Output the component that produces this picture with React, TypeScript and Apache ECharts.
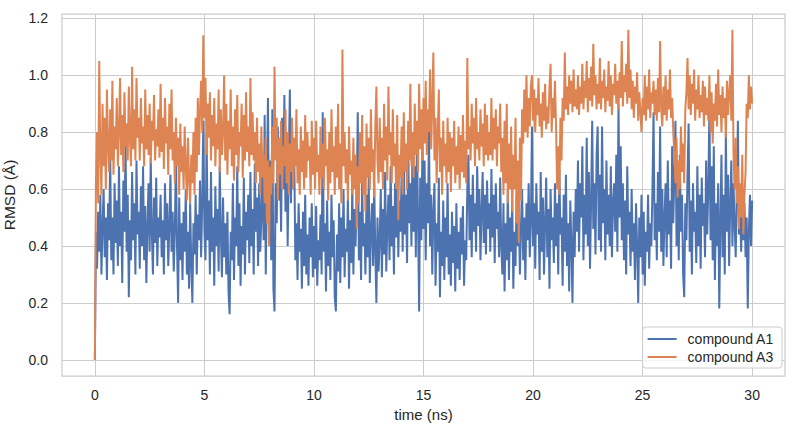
import React, { useEffect, useRef } from "react";
import * as echarts from "echarts";

// Sampling step of the trajectories (ns)
const TIME_STEP_NS = 0.05;

const X_TICKS = [0, 5, 10, 15, 20, 25, 30];
const Y_TICKS = [0, 0.2, 0.4, 0.6, 0.8, 1.0, 1.2];
const SERIES_NAMES = ["compound A1", "compound A3"];

// RMSD of compound A1 (Å), one value every 0.05 ns, 0–30 ns
const rmsdA1: number[] = [
  0.00, 0.45, 0.32, 0.52, 0.38, 0.58, 0.30, 0.47, 0.60, 0.36, 0.50, 0.28, 0.55, 0.42, 0.72, 0.35, 0.50, 0.30, 0.62, 0.41,
  0.56, 0.33, 0.68, 0.40, 0.52, 0.27, 0.63, 0.45, 0.76, 0.38, 0.58, 0.22, 0.49, 0.35, 0.66, 0.42, 0.55, 0.30, 0.70, 0.44,
  0.52, 0.32, 0.61, 0.40, 0.68, 0.35, 0.54, 0.27, 0.47, 0.62, 0.38, 0.71, 0.45, 0.30, 0.57, 0.41, 0.64, 0.33, 0.50, 0.43,
  0.58, 0.36, 0.49, 0.30, 0.62, 0.42, 0.55, 0.33, 0.47, 0.65, 0.38, 0.52, 0.31, 0.45, 0.72, 0.40, 0.20, 0.57, 0.35, 0.48,
  0.28, 0.52, 0.38, 0.60, 0.30, 0.45, 0.25, 0.55, 0.34, 0.20, 0.48, 0.37, 0.58, 0.30, 0.51, 0.42, 0.63, 0.36, 0.55, 0.84,
  0.45, 0.35, 0.80, 0.42, 0.56, 0.30, 0.66, 0.38, 0.50, 0.26, 0.61, 0.40, 0.53, 0.31, 0.68, 0.44, 0.29, 0.57, 0.36, 0.48,
  0.30, 0.52, 0.24, 0.16, 0.45, 0.35, 0.62, 0.28, 0.50, 0.40, 0.68, 0.33, 0.55, 0.26, 0.47, 0.37, 0.64, 0.30, 0.52, 0.42,
  0.58, 0.34, 0.66, 0.40, 0.53, 0.30, 0.69, 0.45, 0.57, 0.33, 0.62, 0.38, 0.50, 0.72, 0.42, 0.86, 0.30, 0.60, 0.92, 0.45,
  0.70, 0.35, 0.88, 0.25, 0.17, 0.62, 0.48, 0.82, 0.56, 0.72, 0.45, 0.85, 0.60, 0.93, 0.52, 0.78, 0.40, 0.68, 0.95, 0.55,
  0.80, 0.60, 0.72, 0.35, 0.48, 0.28, 0.55, 0.38, 0.46, 0.25, 0.52, 0.33, 0.58, 0.30, 0.44, 0.26, 0.50, 0.36, 0.55, 0.29,
  0.47, 0.32, 0.54, 0.26, 0.42, 0.35, 0.51, 0.30, 0.87, 0.38, 0.48, 0.24, 0.56, 0.33, 0.45, 0.28, 0.58, 0.36, 0.49, 0.22,
  0.17, 0.44, 0.31, 0.55, 0.27, 0.50, 0.36, 0.60, 0.29, 0.46, 0.38, 0.57, 0.25, 0.49, 0.34, 0.61, 0.30, 0.53, 0.40, 0.58,
  0.87, 0.35, 0.52, 0.28, 0.63, 0.40, 0.48, 0.30, 0.58, 0.36, 0.65, 0.27, 0.45, 0.55, 0.33, 0.62, 0.38, 0.20, 0.50, 0.31,
  0.42, 0.60, 0.29, 0.53, 0.37, 0.66, 0.31, 0.47, 0.58, 0.35, 0.68, 0.40, 0.54, 0.30, 0.62, 0.43, 0.70, 0.36, 0.56, 0.45,
  0.65, 0.38, 0.72, 0.44, 0.58, 0.34, 0.76, 0.48, 0.62, 0.40, 0.78, 0.45, 0.68, 0.36, 0.80, 0.50, 0.17, 0.64, 0.42, 0.75,
  0.46, 0.70, 0.35, 0.62, 0.48, 0.80, 0.40, 0.58, 0.30, 0.52, 0.62, 0.26, 0.48, 0.38, 0.64, 0.22, 0.45, 0.33, 0.56, 0.28,
  0.50, 0.36, 0.62, 0.30, 0.44, 0.26, 0.52, 0.34, 0.47, 0.24, 0.55, 0.32, 0.45, 0.28, 0.50, 0.37, 0.54, 0.26, 0.42, 0.35,
  0.60, 0.72, 0.42, 0.58, 0.36, 0.65, 0.45, 0.55, 0.38, 0.68, 0.47, 0.60, 0.35, 0.52, 0.66, 0.41, 0.58, 0.37, 0.63, 0.46,
  0.55, 0.38, 0.67, 0.43, 0.58, 0.34, 0.62, 0.46, 0.52, 0.36, 0.64, 0.40, 0.30, 0.55, 0.24, 0.48, 0.35, 0.60, 0.28, 0.50,
  0.38, 0.56, 0.25, 0.45, 0.33, 0.58, 0.40, 0.52, 0.30, 0.47, 0.60, 0.35, 0.50, 0.28, 0.55, 0.42, 0.62, 0.36, 0.48, 0.82,
  0.40, 0.55, 0.32, 0.62, 0.44, 0.52, 0.28, 0.66, 0.38, 0.57, 0.30, 0.48, 0.64, 0.36, 0.53, 0.25, 0.60, 0.42, 0.50, 0.34,
  0.62, 0.40, 0.55, 0.30, 0.67, 0.44, 0.50, 0.26, 0.58, 0.38, 0.65, 0.33, 0.48, 0.24, 0.56, 0.41, 0.20, 0.52, 0.36, 0.60,
  0.45, 0.70, 0.38, 0.62, 0.50, 0.75, 0.35, 0.58, 0.44, 0.78, 0.40, 0.66, 0.32, 0.55, 0.84, 0.46, 0.62, 0.37, 0.72, 0.82,
  0.42, 0.65, 0.38, 0.82, 0.48, 0.60, 0.35, 0.70, 0.44, 0.58, 0.40, 0.68, 0.36, 0.55, 0.62, 0.45, 0.72, 0.38, 0.90, 0.50,
  0.75, 0.42, 0.62, 0.35, 0.56, 0.30, 0.68, 0.44, 0.52, 0.33, 0.60, 0.38, 0.48, 0.28, 0.55, 0.40, 0.20, 0.50, 0.36, 0.58,
  0.30, 0.52, 0.26, 0.45, 0.38, 0.58, 0.32, 0.48, 0.40, 0.60, 0.87, 0.42, 0.55, 0.35, 0.66, 0.45, 0.82, 0.38, 0.60, 0.33,
  0.50, 0.62, 0.36, 0.70, 0.44, 0.56, 0.32, 0.75, 0.48, 0.65, 0.84, 0.40, 0.60, 0.35, 0.72, 0.45, 0.58, 0.30, 0.22, 0.55,
  0.42, 0.65, 0.83, 0.38, 0.56, 0.30, 0.62, 0.45, 0.52, 0.34, 0.68, 0.40, 0.58, 0.32, 0.64, 0.47, 0.55, 0.36, 0.70, 0.44,
  0.60, 0.89, 0.42, 0.68, 0.35, 0.75, 0.28, 0.55, 0.40, 0.62, 0.18, 0.48, 0.72, 0.36, 0.58, 0.30, 0.80, 0.45, 0.65, 0.33,
  0.55, 0.70, 0.40, 0.62, 0.48, 0.36, 0.58, 0.84, 0.44, 0.52, 0.38, 0.60, 0.42, 0.55, 0.36, 0.50, 0.18, 0.45, 0.58, 0.40,
  0.56,
];

// RMSD of compound A3 (Å), one value every 0.05 ns, 0–30 ns
const rmsdA3: number[] = [
  0.00, 0.62, 0.80, 0.55, 1.05, 0.72, 0.58, 0.90, 0.68, 0.85, 0.60, 0.95, 0.75, 0.66, 0.88, 0.70, 0.98, 0.65, 0.82, 0.74,
  0.92, 0.68, 0.80, 0.99, 0.72, 0.86, 0.66, 0.94, 0.75, 0.83, 0.70, 0.96, 0.78, 0.68, 1.03, 0.74, 0.88, 0.70, 0.99, 0.78,
  0.85, 0.70, 0.92, 0.76, 0.82, 0.68, 0.95, 0.74, 0.86, 0.72, 0.90, 0.69, 0.84, 0.77, 0.93, 0.70, 0.81, 0.75, 0.88, 0.71,
  0.97, 0.73, 0.85, 0.67, 0.92, 0.76, 0.82, 0.65, 0.90, 0.74, 0.95, 0.70, 0.80, 0.62, 0.85, 0.68, 0.78, 0.58, 0.83, 0.66,
  0.75, 0.60, 0.82, 0.68, 0.56, 0.78, 0.64, 0.55, 0.72, 0.62, 0.80, 0.58, 0.85, 0.66, 0.92, 0.72, 0.88, 0.98, 0.80, 1.14,
  0.85, 0.99, 0.72, 0.90, 0.78, 0.94, 0.70, 0.86, 0.75, 0.92, 0.68, 0.83, 0.74, 0.95, 0.66, 0.88, 0.72, 0.80, 1.00, 0.70,
  0.90, 0.65, 0.84, 0.74, 0.95, 0.68, 0.82, 0.63, 0.88, 0.72, 0.93, 0.66, 0.80, 0.75, 0.90, 0.64, 0.86, 0.70, 0.94, 0.73,
  0.82, 0.68, 0.99, 0.72, 0.87, 0.70, 0.80, 0.62, 0.85, 0.66, 0.76, 0.58, 0.82, 0.64, 0.72, 0.55, 0.78, 0.48, 0.70, 0.40,
  0.68, 0.58, 0.82, 0.62, 1.03, 0.70, 0.85, 0.56, 0.78, 0.65, 0.84, 0.60, 0.75, 0.68, 0.88, 0.62, 0.80, 0.58, 0.76, 0.66,
  0.85, 0.60, 0.78, 0.68, 0.88, 0.62, 0.74, 0.58, 0.82, 0.66, 0.77, 0.60, 0.86, 0.64, 0.80, 0.70, 0.75, 0.58, 0.84, 0.65,
  0.78, 0.60, 0.84, 0.66, 0.72, 0.58, 0.82, 0.64, 0.76, 0.60, 0.85, 0.68, 0.74, 0.56, 0.80, 0.62, 0.88, 0.66, 0.75, 0.58,
  0.82, 0.64, 0.90, 0.60, 0.76, 0.55, 1.09, 0.68, 0.80, 0.62, 0.74, 0.56, 0.82, 0.65, 0.70, 0.58, 0.78, 0.60, 0.72, 0.46,
  0.68, 0.55, 0.80, 0.62, 0.86, 0.58, 0.75, 0.52, 0.83, 0.64, 0.78, 0.60, 0.88, 0.66, 0.74, 0.57, 0.82, 0.96, 0.70, 0.62,
  0.85, 0.66, 0.78, 0.60, 0.90, 0.70, 0.82, 0.63, 0.96, 0.72, 0.80, 0.62, 0.88, 0.68, 0.76, 0.60, 0.86, 0.49, 0.72, 0.64,
  0.82, 0.58, 0.87, 0.66, 0.76, 0.60, 0.84, 0.70, 0.97, 0.68, 0.80, 0.64, 0.90, 0.72, 0.84, 0.66, 0.97, 0.74, 0.88, 0.70,
  0.92, 0.76, 0.98, 0.72, 0.88, 0.80, 1.02, 0.74, 0.90, 1.08, 0.70, 0.85, 0.62, 0.80, 0.95, 0.66, 0.78, 0.58, 0.84, 0.68,
  0.76, 0.62, 0.85, 0.66, 0.80, 0.59, 0.78, 0.68, 0.84, 0.62, 0.75, 0.65, 0.82, 0.60, 0.79, 0.66, 0.86, 0.64, 0.77, 0.62,
  1.06, 0.74, 0.82, 0.70, 0.90, 0.76, 0.85, 0.68, 0.92, 0.74, 0.80, 0.70, 0.88, 0.75, 0.83, 0.68, 0.90, 0.72, 0.86, 0.70,
  0.80, 0.72, 0.92, 0.70, 0.85, 0.74, 0.88, 0.68, 0.82, 0.76, 0.90, 0.66, 0.78, 0.58, 0.84, 0.62, 0.90, 0.55, 0.76, 0.60,
  0.82, 0.52, 0.72, 0.60, 0.85, 0.48, 0.70, 0.41, 0.78, 0.56, 0.88, 0.76, 0.95, 0.80, 1.00, 0.78, 0.92, 0.82, 0.96, 1.00,
  0.84, 0.95, 0.80, 0.92, 0.86, 0.99, 0.82, 0.90, 0.78, 0.94, 0.84, 0.97, 0.81, 0.89, 0.83, 0.96, 1.04, 0.80, 0.92, 0.85,
  0.98, 0.82, 0.60, 0.75, 0.58, 0.85, 0.70, 0.92, 0.84, 1.08, 0.88, 0.96, 0.86, 1.00, 0.90, 0.98, 0.87, 1.02, 0.89, 0.95,
  0.88, 1.00, 0.86, 0.96, 0.90, 1.04, 0.88, 0.98, 0.92, 1.05, 0.87, 0.99, 0.91, 1.03, 0.89, 1.11, 0.93, 1.00, 0.88, 0.97,
  0.90, 1.06, 0.88, 0.98, 0.92, 1.02, 0.87, 0.96, 0.91, 1.05, 0.89, 1.00, 0.86, 0.97, 0.93, 1.04, 0.90, 0.98, 0.88, 1.01,
  0.92, 1.12, 0.89, 1.00, 0.94, 1.04, 0.90, 1.16, 0.92, 1.02, 0.88, 0.98, 0.85, 0.96, 0.90, 1.01, 0.84, 0.94, 0.87, 0.80,
  0.92, 0.86, 1.00, 0.84, 0.96, 0.88, 1.02, 0.85, 0.94, 0.90, 0.98, 0.86, 0.95, 0.84, 0.99, 0.87, 1.12, 0.88, 0.82, 0.96,
  0.86, 1.00, 0.84, 0.95, 0.88, 1.02, 0.85, 0.92, 0.80, 0.72, 0.62, 0.78, 0.57, 0.70, 0.60, 0.82, 0.66, 0.76, 0.62, 0.88,
  0.94, 1.06, 0.88, 1.00, 0.86, 0.97, 0.90, 1.02, 0.84, 0.95, 0.88, 1.00, 0.85, 0.93, 0.87, 0.98, 0.82, 0.96, 0.86, 0.92,
  0.84, 1.00, 0.80, 0.94, 0.76, 0.90, 0.84, 0.97, 0.82, 1.02, 0.86, 0.93, 0.80, 0.96, 0.85, 0.92, 0.78, 0.98, 0.86, 0.94,
  1.00, 0.84, 1.16, 0.72, 0.60, 0.78, 0.55, 0.68, 0.46, 0.62, 0.50, 0.72, 0.44, 0.58, 0.66, 0.90, 0.85, 1.00, 0.88, 0.96,
  0.90,
];

const COLORS = ["#4c72b0", "#dd8452"];
const FONT = "'Liberation Sans', Arial, 'DejaVu Sans', sans-serif";
const TEXT = "#262626";
const GRID = "#cccccc";

const toPairs = (vals: number[]) =>
  vals.map((v, i) => [Number((i * TIME_STEP_NS).toFixed(2)), v]);

export default function App() {
  const ref = useRef<HTMLDivElement>(null);

  useEffect(() => {
    if (!ref.current) return;
    const chart = echarts.init(ref.current, undefined, { renderer: "svg" });
    chart.setOption({
      animation: false,
      backgroundColor: "#ffffff",
      textStyle: { fontFamily: FONT },
      grid: {
        left: 62,
        right: 15,
        top: 14,
        bottom: 54,
        containLabel: false,
        outerBoundsMode: "none",
        show: true,
        borderColor: GRID,
        borderWidth: 1.25,
        backgroundColor: "#ffffff",
      },
      legend: {
        data: SERIES_NAMES,
        orient: "vertical",
        right: 18,
        bottom: 62,
        icon: "rect",
        itemWidth: 29,
        itemHeight: 2,
        itemGap: 4,
        padding: [5, 8, 4, 5],
        backgroundColor: "rgba(255,255,255,0.8)",
        borderColor: GRID,
        borderWidth: 1,
        borderRadius: 3,
        textStyle: {
          fontFamily: FONT,
          fontSize: 14,
          color: TEXT,
          padding: [0, 0, 0, 6],
        },
      },
      xAxis: {
        type: "value",
        min: -1.5,
        max: 31.5,
        name: "time (ns)",
        nameLocation: "middle",
        nameGap: 27,
        nameTextStyle: { fontFamily: FONT, fontSize: 15, color: TEXT },
        axisLine: { show: false },
        axisTick: { show: false, customValues: X_TICKS },
        axisLabel: {
          customValues: X_TICKS,
          fontFamily: FONT,
          fontSize: 14,
          color: TEXT,
          margin: 12,
          formatter: (v: number) => String(v),
        },
        splitLine: { show: true, lineStyle: { color: GRID, width: 1 } },
      },
      yAxis: {
        type: "value",
        min: -0.057,
        max: 1.215,
        name: "RMSD (Å)",
        nameLocation: "middle",
        nameGap: 31,
        nameRotate: 90,
        nameTextStyle: { fontFamily: FONT, fontSize: 15.5, color: TEXT },
        axisLine: { show: false },
        axisTick: { show: false, customValues: Y_TICKS },
        axisLabel: {
          customValues: Y_TICKS,
          fontFamily: FONT,
          fontSize: 14,
          color: TEXT,
          margin: 14,
          formatter: (v: number) => v.toFixed(1),
        },
        splitLine: { show: true, lineStyle: { color: GRID, width: 1 } },
      },
      series: [
        {
          name: SERIES_NAMES[0],
          type: "line",
          data: toPairs(rmsdA1),
          showSymbol: false,
          symbol: "none",
          color: COLORS[0],
          lineStyle: { width: 2, color: COLORS[0] },
          clip: true,
        },
        {
          name: SERIES_NAMES[1],
          type: "line",
          data: toPairs(rmsdA3),
          showSymbol: false,
          symbol: "none",
          color: COLORS[1],
          lineStyle: { width: 2, color: COLORS[1] },
          clip: true,
        },
      ],
    });
    return () => chart.dispose();
  }, []);

  return (
    <div
      ref={ref}
      style={{ position: "fixed", left: 0, top: 0, width: 800, height: 430 }}
    />
  );
}
